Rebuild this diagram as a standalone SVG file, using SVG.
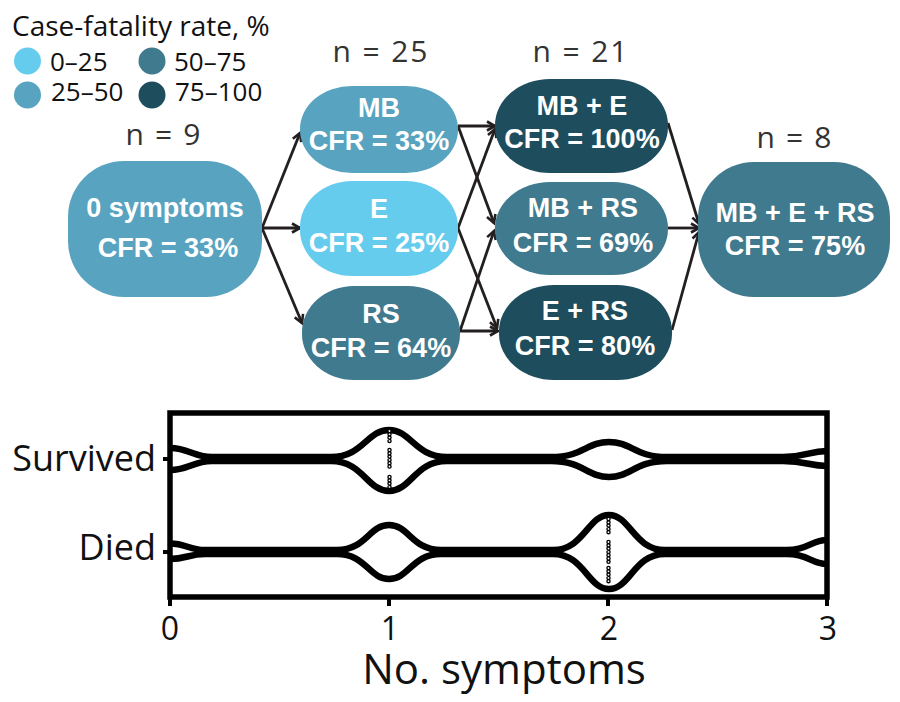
<svg xmlns="http://www.w3.org/2000/svg" width="900" height="702" viewBox="0 0 900 702">
<style>
.lbl{font-family:"Open Sans","Liberation Sans",sans-serif;fill:#111}
.n{font-family:"Open Sans","Liberation Sans",sans-serif;font-size:30px;fill:#333;text-anchor:middle}
.nt{font-family:"Liberation Sans",Arial,sans-serif;font-weight:bold;font-size:27px;fill:#fff;text-anchor:middle}
.c1{fill:#66CCEE}.c2{fill:#58A4C0}.c3{fill:#3F7A8E}.c4{fill:#1E4E5E}
.edge{stroke:#231F20;stroke-width:2.8;fill:none;marker-end:url(#ah)}
.v{stroke:#000;stroke-width:6.5;fill:none}
</style>
<defs>
<marker id="ah" markerWidth="12" markerHeight="12" refX="9" refY="6" orient="auto" markerUnits="userSpaceOnUse">
<path d="M1,1.5 L9,6 L1,10.5" fill="none" stroke="#231F20" stroke-width="2.6" stroke-linejoin="miter"/>
</marker>
<clipPath id="box"><rect x="170" y="413" width="657" height="184"/></clipPath>
</defs>
<rect width="900" height="702" fill="#fff"/>

<g id="legend">
<text class="lbl" x="12" y="36" font-size="28">Case-fatality rate, %</text>
<circle class="c1" cx="27.5" cy="61" r="13.5"/>
<text class="lbl" x="50" y="71" font-size="26">0–25</text>
<circle class="c2" cx="27.5" cy="95" r="13.5"/>
<text class="lbl" x="51" y="101" font-size="26">25–50</text>
<circle class="c3" cx="152" cy="61" r="13.5"/>
<text class="lbl" x="174" y="71" font-size="26">50–75</text>
<circle class="c4" cx="152" cy="95" r="13.5"/>
<text class="lbl" x="175" y="101" font-size="26">75–100</text>
</g>

<g id="connectors">
<path class="edge" d="M262,228 L300,133"/>
<path class="edge" d="M262,228 L300,228"/>
<path class="edge" d="M262,228 L302,323"/>
<path class="edge" d="M458,126 L495,126"/>
<path class="edge" d="M458,126 L494,223"/>
<path class="edge" d="M458,228 L495,129"/>
<path class="edge" d="M458,228 L497,328"/>
<path class="edge" d="M460,331 L494,231"/>
<path class="edge" d="M460,331 L498,331"/>
<path class="edge" d="M668,123 L699,224"/>
<path class="edge" d="M668,228 L699,228"/>
<path class="edge" d="M672,330 L699,232"/>
</g>

<g id="n0">
<text class="n" x="163" y="145" textLength="75" lengthAdjust="spacing">n = 9</text>
<rect class="c2" x="68" y="161" width="194" height="136" rx="56" ry="56"/>
<text class="nt" x="165" y="217">0 symptoms</text>
<text class="nt" x="168" y="257">CFR = 33%</text>
</g>
<g id="nMB">
<text class="n" x="380" y="62" textLength="95" lengthAdjust="spacing">n = 25</text>
<rect class="c2" x="300" y="86" width="158" height="87" rx="52" ry="43"/>
<text class="nt" x="379" y="117">MB</text>
<text class="nt" x="379" y="150">CFR = 33%</text>
</g>
<g id="nE">
<rect class="c1" x="300" y="181" width="158" height="95" rx="52" ry="46"/>
<text class="nt" x="379" y="218">E</text>
<text class="nt" x="379" y="252">CFR = 25%</text>
</g>
<g id="nRS">
<rect class="c3" x="302" y="286" width="158" height="94" rx="52" ry="46"/>
<text class="nt" x="381" y="323">RS</text>
<text class="nt" x="381" y="357">CFR = 64%</text>
</g>
<g id="nMBE">
<text class="n" x="580" y="62" textLength="95" lengthAdjust="spacing">n = 21</text>
<rect class="c4" x="495" y="79" width="173" height="94" rx="55" ry="46"/>
<text class="nt" x="582" y="115">MB + E</text>
<text class="nt" x="582" y="148">CFR = 100%</text>
</g>
<g id="nMBRS">
<rect class="c3" x="495" y="182" width="173" height="93" rx="55" ry="46"/>
<text class="nt" x="583" y="217">MB + RS</text>
<text class="nt" x="583" y="252">CFR = 69%</text>
</g>
<g id="nERS">
<rect class="c4" x="499" y="285" width="173" height="95" rx="55" ry="46"/>
<text class="nt" x="585" y="320">E + RS</text>
<text class="nt" x="585" y="355">CFR = 80%</text>
</g>
<g id="nAll">
<text class="n" x="794" y="148" textLength="75" lengthAdjust="spacing">n = 8</text>
<rect class="c3" x="698" y="162" width="192" height="135" rx="56" ry="56"/>
<text class="nt" x="795" y="222">MB + E + RS</text>
<text class="nt" x="795" y="255">CFR = 75%</text>
</g>

<g id="plot">
<g clip-path="url(#box)">
<!-- Survived c=459 -->
<path class="v" d="M170,448 C189,448 193,457 212,457 L331,457 C363,457 367,430 389,430 C411,430 415,457 447,457 L551,457 C583,457 587,442 609,442 C631,442 635,457 667,457 L783,457 C807,457 809,451 827,451"/>
<path class="v" d="M170,470 C189,470 193,461 212,461 L331,461 C363,461 367,491 389,491 C411,491 415,461 447,461 L551,461 C583,461 587,477 609,477 C631,477 635,461 667,461 L783,461 C807,461 809,466 827,466"/>
<!-- Died c=552 -->
<path class="v" d="M170,543.5 C186,543.5 189,550 205,550 L337,550 C366,550 369,525 389,525 C409,525 412,550 441,550 L553,550 C584,550 588,515 609,515 C630,515 634,550 665,550 L787,550 C809,550 811,540 827,540"/>
<path class="v" d="M170,559 C186,559 189,554 205,554 L337,554 C366,554 369,579 389,579 C409,579 412,554 441,554 L553,554 C584,554 588,589 609,589 C630,589 634,554 665,554 L787,554 C809,554 811,564 827,564"/>
</g>
<g stroke-linecap="round">
<g stroke="#000" stroke-width="4.5" stroke-dasharray="0 3.3">
<path d="M389.5,431 V441 M389.5,450 V468 M389.5,477 V490 M608.5,519 V535 M608.5,542 V562 M608.5,568 V584"/>
</g>
<g stroke="#fff" stroke-width="1.8" stroke-dasharray="0 3.3">
<path d="M389.5,431 V441 M389.5,450 V468 M389.5,477 V490 M608.5,519 V535 M608.5,542 V562 M608.5,568 V584"/>
</g>
</g>
<rect x="170" y="413" width="657" height="184" fill="none" stroke="#000" stroke-width="5.5"/>
<path d="M170,597 V606 M389,597 V606 M608,597 V606 M827,597 V606 M163,459 H170 M163,552 H170" stroke="#000" stroke-width="4"/>
<g class="lbl" font-size="32" text-anchor="middle">
<text x="170" y="640">0</text>
<text x="390" y="640">1</text>
<text x="609" y="640">2</text>
<text x="828" y="640">3</text>
</g>
<g class="lbl" font-size="36" text-anchor="end">
<text x="156" y="471">Survived</text>
<text x="156" y="560">Died</text>
</g>
<text class="lbl" x="504" y="684" font-size="42" text-anchor="middle">No. symptoms</text>
</g>
</svg>
